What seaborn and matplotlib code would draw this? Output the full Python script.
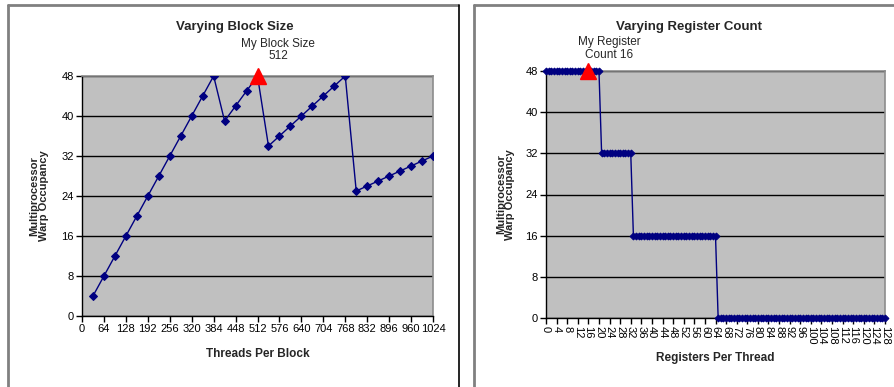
import matplotlib
matplotlib.use("Agg")
import matplotlib.pyplot as plt
from matplotlib.lines import Line2D
import seaborn as sns
import pandas as pd

# Occupancy vs. threads per block
block_sizes = [32, 64, 96, 128, 160, 192, 224, 256, 288, 320, 352, 384,
               416, 448, 480, 512, 544, 576, 608, 640, 672, 704, 736, 768,
               800, 832, 864, 896, 928, 960, 992, 1024]
block_occupancy = [4, 8, 12, 16, 20, 24, 28, 32, 36, 40, 44, 48,
                   39, 42, 45, 48, 34, 36, 38, 40, 42, 44, 46, 48,
                   25, 26, 27, 28, 29, 30, 31, 32]
my_block_size = 512
my_block_occupancy = 48

# Occupancy vs. registers per thread
register_counts = list(range(0, 129))
register_occupancy = [
    48, 48, 48, 48, 48, 48, 48, 48, 48, 48, 48, 48, 48, 48, 48, 48,
    48, 48, 48, 48, 48, 32, 32, 32, 32, 32, 32, 32, 32, 32, 32, 32,
    32, 16, 16, 16, 16, 16, 16, 16, 16, 16, 16, 16, 16, 16, 16, 16,
    16, 16, 16, 16, 16, 16, 16, 16, 16, 16, 16, 16, 16, 16, 16, 16,
    16, 0, 0, 0, 0, 0, 0, 0, 0, 0, 0, 0, 0, 0, 0, 0,
    0, 0, 0, 0, 0, 0, 0, 0, 0, 0, 0, 0, 0, 0, 0, 0,
    0, 0, 0, 0, 0, 0, 0, 0, 0, 0, 0, 0, 0, 0, 0, 0,
    0, 0, 0, 0, 0, 0, 0, 0, 0, 0, 0, 0, 0, 0, 0, 0,
    0,
]
my_register_count = 16
my_register_occupancy = 48

y_ticks = [0, 8, 16, 24, 32, 40, 48]
block_ticks = list(range(0, 1025, 64))
register_ticks = list(range(0, 129, 4))

sns.set_style("white")
plt.rcParams["font.family"] = ["Liberation Sans", "DejaVu Sans"]

W, H = 894, 387
fig = plt.figure(figsize=(W / 100, H / 100), dpi=100)
fig.patch.set_facecolor("white")


def fx(px):
    return px / W


def fy(py):
    return 1 - py / H


def frame_line(x0, y0, x1, y1, color, lw):
    fig.add_artist(Line2D([fx(x0), fx(x1)], [fy(y0), fy(y1)], color=color, lw=lw,
                          transform=fig.transFigure))


# chart frames
frame_line(8, 4.5, 458, 4.5, "#808080", 2)
frame_line(8, 4.5, 8, 395, "#808080", 2)
frame_line(458.5, 4.5, 458.5, 395, "black", 1.2)
frame_line(474, 4.5, 900, 4.5, "#808080", 2)
frame_line(474, 4.5, 474, 395, "#808080", 2)

NAVY = "#000080"
GRID_BG = "#C0C0C0"


def style_axes(ax):
    ax.set_facecolor(GRID_BG)
    ax.set_ylim(0, 48)
    ax.set_yticks(y_ticks)
    ax.yaxis.grid(True, color="black", lw=1.0)
    ax.xaxis.grid(False)
    ax.set_axisbelow(True)
    for side in ("top", "right"):
        ax.spines[side].set_color("#8c8c8c")
        ax.spines[side].set_linewidth(1.2)
    for side in ("left", "bottom"):
        ax.spines[side].set_color("black")
        ax.spines[side].set_linewidth(1.0)
    ax.tick_params(axis="both", direction="out", length=4, width=1,
                   color="black", labelsize=8, labelcolor="black", pad=2,
                   left=True, bottom=True)


# Left: varying block size
ax1 = fig.add_axes([fx(82), fy(316), fx(433) - fx(82), fy(76) - fy(316)])
df_block = pd.DataFrame({"threads": block_sizes, "occupancy": block_occupancy})
sns.lineplot(data=df_block, x="threads", y="occupancy", ax=ax1, color=NAVY,
             lw=1.0, marker="D", markersize=4, markeredgecolor=NAVY, zorder=3)
ax1.plot([my_block_size], [my_block_occupancy], marker="^", color="red",
         markersize=11, linestyle="none", clip_on=False, zorder=5)
style_axes(ax1)
ax1.set_xlim(0, 1024)
ax1.set_xticks(block_ticks)
ax1.set_xticklabels([str(t) for t in block_ticks])
ax1.set_xlabel("Threads Per Block", fontsize=8.5, fontweight="bold", labelpad=10)
ax1.set_ylabel("Multiprocessor\nWarp Occupancy", fontsize=8, fontweight="bold",
               labelpad=9, linespacing=0.95)
fig.text(fx(235), fy(27), "Varying Block Size", fontsize=9.5, fontweight="bold",
         ha="center", va="center")
ax1.text(572, 53.2, f"My Block Size\n{my_block_size}", ha="center", va="center",
         fontsize=8.5, linespacing=1.1, clip_on=False)

# Right: varying register count
ax2 = fig.add_axes([fx(546), fy(318), fx(885) - fx(546), fy(71) - fy(318)])
df_reg = pd.DataFrame({"registers": register_counts, "occupancy": register_occupancy})
sns.lineplot(data=df_reg, x="registers", y="occupancy", ax=ax2, color=NAVY,
             lw=1.0, marker="D", markersize=3.5, markeredgecolor=NAVY, zorder=3,
             clip_on=False)
ax2.plot([my_register_count], [my_register_occupancy], marker="^", color="red",
         markersize=11, linestyle="none", clip_on=False, zorder=5)
style_axes(ax2)
ax2.set_xlim(0, 128)
ax2.set_xticks(register_ticks)
ax2.set_xticklabels([str(t) for t in register_ticks], rotation=270, fontsize=8)
ax2.set_xlabel("Registers Per Thread", fontsize=8.5, fontweight="bold", labelpad=5)
ax2.set_ylabel("Multiprocessor\nWarp Occupancy", fontsize=8, fontweight="bold",
               labelpad=7, linespacing=0.95)
fig.text(fx(689), fy(27), "Varying Register Count", fontsize=9.5, fontweight="bold",
         ha="center", va="center")
ax2.text(23.8, 52.4, f"My Register\nCount {my_register_count}", ha="center",
         va="center", fontsize=8.5, linespacing=1.1, clip_on=False)

fig.savefig("out.png", dpi=100)
